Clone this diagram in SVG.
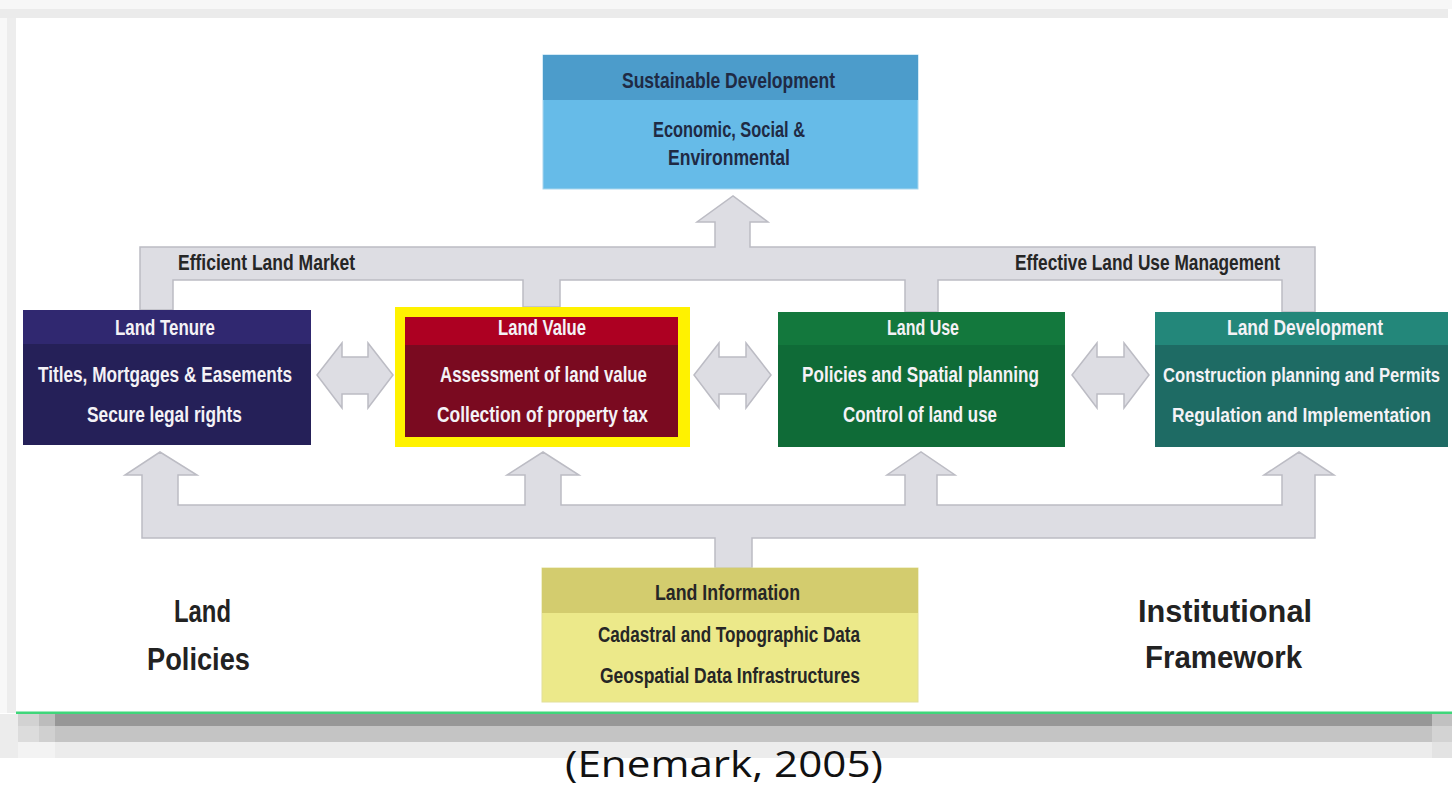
<svg xmlns="http://www.w3.org/2000/svg" width="1452" height="788" viewBox="0 0 1452 788">
<style>
.t{font-family:"Liberation Sans",Arial,sans-serif;font-weight:bold;font-size:22px}
.w{fill:#f4f2f6}
.d{fill:#1f2a44}
.k{fill:#262626}
.big{font-family:"Liberation Sans",Arial,sans-serif;font-weight:bold;font-size:31px;fill:#222}
.conn{fill:#dddde3;stroke:#bcbcc4;stroke-width:1.5;stroke-linejoin:miter}
</style>
<rect x="0" y="0" width="1452" height="788" fill="#ffffff"/>
<!-- frame -->
<rect x="0" y="0" width="1452" height="9" fill="#f7f7f7"/>
<rect x="0" y="9" width="1448" height="9" fill="#ebebeb"/>
<rect x="0" y="18" width="7" height="695" fill="#f8f8f8"/>
<rect x="7" y="18" width="9" height="695" fill="#ededed"/>
<rect x="16" y="18" width="1436" height="695" fill="#ffffff"/>
<rect x="16" y="711.5" width="1436" height="2.5" fill="#3fd67a"/>
<rect x="0" y="714" width="1452" height="12" fill="#979797"/>
<rect x="0" y="726" width="1452" height="16" fill="#c4c4c4"/>
<rect x="0" y="742" width="1452" height="16" fill="#ececec"/>
<rect x="0" y="714" width="18" height="44" fill="#ececec"/>
<rect x="18" y="714" width="21" height="12" fill="#d2d2d2"/>
<rect x="39" y="714" width="16" height="12" fill="#bcbcbc"/>
<rect x="18" y="726" width="21" height="16" fill="#dcdcdc"/>
<rect x="39" y="726" width="16" height="16" fill="#d0d0d0"/>
<rect x="18" y="742" width="37" height="16" fill="#f3f3f3"/>
<rect x="1432" y="714" width="20" height="44" fill="#dedede" opacity="0.6"/>

<g id="connectors">
<path class="conn" d="M140,310 L140,247 L715,247 L715,222 L697,222 L733,196 L768,222 L750,222 L750,247 L1315,247 L1315,312 L1282,312 L1282,280 L938,280 L938,312 L905,312 L905,280 L560,280 L560,307 L523,307 L523,280 L173,280 L173,310 Z"/>
<path class="conn" d="M142,538 L142,475 L125,475 L160,452 L197,475 L178,475 L178,505 L525,505 L525,475 L507,475 L543,452 L579,475 L561,475 L561,505 L905,505 L905,475 L887,475 L921,452 L955,475 L937,475 L937,505 L1282,505 L1282,475 L1264,475 L1299,452 L1334,475 L1315,475 L1315,538 L752,538 L752,568 L715,568 L715,538 Z"/>
<path class="conn" d="M317,375 L342,343 L342,357 L368,357 L368,343 L393,375 L368,408 L368,394 L342,394 L342,408 Z"/>
<path class="conn" d="M694,375 L719,343 L719,357 L746,357 L746,343 L771,375 L746,408 L746,394 L719,394 L719,408 Z"/>
<path class="conn" d="M1072,375 L1097,343 L1097,357 L1124,357 L1124,343 L1149,375 L1124,408 L1124,394 L1097,394 L1097,408 Z"/>
<text class="t k" x="178" y="270" textLength="177" lengthAdjust="spacingAndGlyphs">Efficient Land Market</text>
<text class="t k" x="1015" y="270" textLength="265" lengthAdjust="spacingAndGlyphs">Effective Land Use Management</text>
</g>

<g id="sustainable-development">
<rect x="543" y="55" width="375" height="134" fill="#66bbe8" stroke="#a8d6ee" stroke-width="1"/>
<rect x="543" y="55" width="375" height="45" fill="#4c9ccb"/>
<text class="t d" x="622" y="88" textLength="213" lengthAdjust="spacingAndGlyphs">Sustainable Development</text>
<text class="t d" x="653" y="137" textLength="152" lengthAdjust="spacingAndGlyphs">Economic, Social &amp;</text>
<text class="t d" x="668" y="165" textLength="122" lengthAdjust="spacingAndGlyphs">Environmental</text>
</g>

<g id="land-tenure">
<rect x="23" y="310" width="288" height="135" fill="#252058"/>
<rect x="23" y="310" width="288" height="34" fill="#302870"/>
<text class="t w" x="115" y="335" textLength="100" lengthAdjust="spacingAndGlyphs">Land Tenure</text>
<text class="t w" x="38" y="382" textLength="254" lengthAdjust="spacingAndGlyphs">Titles, Mortgages &amp; Easements</text>
<text class="t w" x="87" y="422" textLength="155" lengthAdjust="spacingAndGlyphs">Secure legal rights</text>
</g>

<g id="land-value">
<rect x="395" y="307" width="295" height="140" fill="#fff200"/>
<rect x="405" y="317" width="273" height="120" fill="#7a0a20"/>
<rect x="405" y="317" width="273" height="28" fill="#ad0022"/>
<text class="t w" x="498" y="335" textLength="88" lengthAdjust="spacingAndGlyphs">Land Value</text>
<text class="t w" x="440" y="382" textLength="207" lengthAdjust="spacingAndGlyphs">Assessment of land value</text>
<text class="t w" x="437" y="422" textLength="211" lengthAdjust="spacingAndGlyphs">Collection of property tax</text>
</g>

<g id="land-use">
<rect x="778" y="312" width="287" height="135" fill="#0f6b37"/>
<rect x="778" y="312" width="287" height="33" fill="#13783d"/>
<text class="t w" x="887" y="335" textLength="72" lengthAdjust="spacingAndGlyphs">Land Use</text>
<text class="t w" x="802" y="382" textLength="237" lengthAdjust="spacingAndGlyphs">Policies and Spatial planning</text>
<text class="t w" x="843" y="422" textLength="154" lengthAdjust="spacingAndGlyphs">Control of land use</text>
</g>

<g id="land-development">
<rect x="1155" y="312" width="293" height="135" fill="#1e6b64"/>
<rect x="1155" y="312" width="293" height="33" fill="#23877a"/>
<text class="t w" x="1227" y="335" textLength="156" lengthAdjust="spacingAndGlyphs">Land Development</text>
<text class="t w" x="1440" y="382" text-anchor="end" textLength="277" lengthAdjust="spacingAndGlyphs" style="font-size:21px">Construction planning and Permits</text>
<text class="t w" x="1431" y="422" text-anchor="end" textLength="259" lengthAdjust="spacingAndGlyphs" style="font-size:21px">Regulation and Implementation</text>
</g>

<g id="land-information">
<rect x="542" y="568" width="376" height="134" fill="#ece98a" stroke="#e2df9a" stroke-width="1"/>
<rect x="542" y="568" width="376" height="45" fill="#d3cc6e"/>
<text class="t k" x="655" y="600" textLength="145" lengthAdjust="spacingAndGlyphs">Land Information</text>
<text class="t k" x="598" y="642" textLength="262" lengthAdjust="spacingAndGlyphs">Cadastral and Topographic Data</text>
<text class="t k" x="600" y="683" textLength="260" lengthAdjust="spacingAndGlyphs">Geospatial Data Infrastructures</text>
</g>

<g id="land-policies">
<text class="big" x="174" y="622" textLength="57" lengthAdjust="spacingAndGlyphs">Land</text>
<text class="big" x="147" y="670" textLength="103" lengthAdjust="spacingAndGlyphs">Policies</text>
</g>

<g id="institutional-framework">
<text class="big" x="1138" y="622" textLength="174" lengthAdjust="spacingAndGlyphs">Institutional</text>
<text class="big" x="1145" y="668" textLength="157" lengthAdjust="spacingAndGlyphs">Framework</text>
</g>

<text x="565" y="777" textLength="318" lengthAdjust="spacingAndGlyphs" style="font-family:'Open Sans','Liberation Sans',sans-serif;font-size:36px;fill:#111">(Enemark, 2005)</text>
</svg>
